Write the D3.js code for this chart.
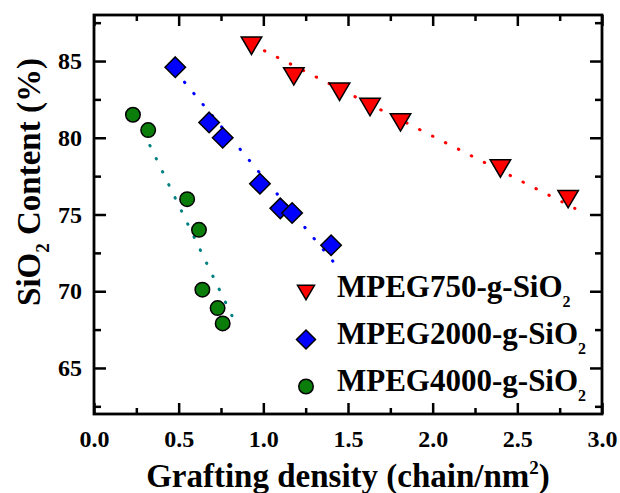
<!DOCTYPE html>
<html>
<head>
<meta charset="utf-8">
<script src="https://cdn.jsdelivr.net/npm/d3@7"></script>
<style>
  body { margin: 0; background: #ffffff; }
  svg { display: block; }
</style>
</head>
<body>
<div id="chart"></div>
<script>
// Chart values
const seriesNames = ["MPEG750-g-SiO", "MPEG2000-g-SiO", "MPEG4000-g-SiO"];
const density750 = [0.93, 1.18, 1.45, 1.63, 1.81, 2.40, 2.80];
const content750 = [86.0, 84.0, 83.0, 82.0, 81.0, 78.0, 76.0];
const density2000 = [0.48, 0.68, 0.76, 0.98, 1.10, 1.17, 1.40];
const content2000 = [84.6, 81.0, 80.0, 77.0, 75.4, 75.1, 73.0];
const density4000 = [0.23, 0.32, 0.55, 0.62, 0.64, 0.73, 0.76];
const content4000 = [81.5, 80.5, 76.0, 74.0, 70.1, 68.9, 67.9];
// dotted guide lines, [start, end] as [density, content]
const fit750 = [[0.93, 86.1], [2.84, 75.4]];
const fit2000 = [[0.48, 84.35], [1.43, 71.7]];
const fit4000 = [[0.33, 79.5], [0.85, 67.6]];
const xTicks = [0, 0.5, 1.0, 1.5, 2.0, 2.5, 3.0];
const xMinorTicks = [0.25, 0.75, 1.25, 1.75, 2.25, 2.75];
const yTicks = [65, 70, 75, 80, 85];
const yMinorTicks = [62.5, 67.5, 72.5, 77.5, 82.5, 87.5];

// Layout
var width = 620;
var height = 493;
const plot = ({ left: 94, right: 602, top: 15, bottom: 414 });
var fontFamily = "'Liberation Serif', 'Times New Roman', serif";

var svg = d3.select("#chart").append("svg")
    .attr("width", width)
    .attr("height", height);

const xScale = d3.scaleLinear().domain([0, 3]).range([plot.left, plot.right]);
const yScale = d3.scaleLinear().domain([62, 88]).range([plot.bottom, plot.top]);

// Marker shapes, centred on their box like the original software does
var markerPath = function (shape, s) {
    if (shape === "triangle") {
        var h = s * 0.85;
        return `M${-s / 2},${-h / 2}L${s / 2},${-h / 2}L0,${h / 2}Z`;
    } else if (shape === "diamond") {
        return `M0,${-s / 2}L${s / 2},0L0,${s / 2}L${-s / 2},0Z`;
    }
    var r = s / 2;
    return `M${r},0A${r},${r} 0 1,1 ${-r},0A${r},${r} 0 1,1 ${r},0Z`;
};

const series = [
    { name: seriesNames[0], x: density750, y: content750, fit: fit750, shape: "triangle", size: 20.5, legendSize: 17, fill: "#ff0000", line: "#ff0000" },
    { name: seriesNames[1], x: density2000, y: content2000, fit: fit2000, shape: "diamond", size: 20.5, legendSize: 19, fill: "#0000ff", line: "#0000ff" },
    { name: seriesNames[2], x: density4000, y: content4000, fit: fit4000, shape: "circle", size: 14.5, legendSize: 14.5, fill: "#0a7d0a", line: "#008080" }
];

// Axes: ticks point inwards on all four sides
var tickStyle = function (g) {
    g.select(".domain").remove();
    g.selectAll(".tick line").attr("stroke", "#000").attr("stroke-width", 2.5);
    g.selectAll(".tick text")
        .attr("font-family", fontFamily)
        .attr("font-weight", "bold")
        .attr("font-size", 24)
        .attr("fill", "#000");
};

svg.append("g")
    .attr("transform", `translate(0,${plot.bottom})`)
    .call(d3.axisBottom(xScale).tickValues(xTicks).tickFormat(d3.format(".1f"))
        .tickSizeInner(-11).tickSizeOuter(0).tickPadding(16))
    .call(tickStyle);
svg.append("g")
    .attr("transform", `translate(0,${plot.bottom})`)
    .call(d3.axisBottom(xScale).tickValues(xMinorTicks).tickFormat("")
        .tickSizeInner(-6).tickSizeOuter(0))
    .call(tickStyle);
svg.append("g")
    .attr("transform", `translate(0,${plot.top})`)
    .call(d3.axisTop(xScale).tickValues(xTicks).tickFormat("")
        .tickSizeInner(-11).tickSizeOuter(0))
    .call(tickStyle);
svg.append("g")
    .attr("transform", `translate(0,${plot.top})`)
    .call(d3.axisTop(xScale).tickValues(xMinorTicks).tickFormat("")
        .tickSizeInner(-6).tickSizeOuter(0))
    .call(tickStyle);

svg.append("g")
    .attr("transform", `translate(${plot.left},0)`)
    .call(d3.axisLeft(yScale).tickValues(yTicks).tickFormat(d3.format("d"))
        .tickSizeInner(-12).tickSizeOuter(0).tickPadding(12))
    .call(tickStyle);
svg.append("g")
    .attr("transform", `translate(${plot.left},0)`)
    .call(d3.axisLeft(yScale).tickValues(yMinorTicks).tickFormat("")
        .tickSizeInner(-7).tickSizeOuter(0))
    .call(tickStyle);
svg.append("g")
    .attr("transform", `translate(${plot.right},0)`)
    .call(d3.axisRight(yScale).tickValues(yTicks).tickFormat("")
        .tickSizeInner(-12).tickSizeOuter(0))
    .call(tickStyle);
svg.append("g")
    .attr("transform", `translate(${plot.right},0)`)
    .call(d3.axisRight(yScale).tickValues(yMinorTicks).tickFormat("")
        .tickSizeInner(-7).tickSizeOuter(0))
    .call(tickStyle);

// Frame
svg.append("rect")
    .attr("x", plot.left)
    .attr("y", plot.top)
    .attr("width", plot.right - plot.left)
    .attr("height", plot.bottom - plot.top)
    .attr("fill", "none")
    .attr("stroke", "#000")
    .attr("stroke-width", 2.8);

// Dotted guide lines
const line = d3.line()
    .x(d => xScale(d[0]))
    .y(d => yScale(d[1]));

svg.append("g")
    .selectAll("path")
    .data(series)
    .enter()
    .append("path")
    .attr("d", d => line(d.fit))
    .attr("fill", "none")
    .attr("stroke", d => d.line)
    .attr("stroke-width", 3)
    .attr("stroke-linecap", "round")
    .attr("stroke-dasharray", "0.5,14");

// Markers
series.forEach(function (s) {
    svg.append("g")
        .selectAll("path")
        .data(d3.range(s.x.length))
        .enter()
        .append("path")
        .attr("transform", i => `translate(${xScale(s.x[i])},${yScale(s.y[i])})`)
        .attr("d", markerPath(s.shape, s.size))
        .attr("fill", s.fill)
        .attr("stroke", "#000")
        .attr("stroke-width", 1.5);
});

// Legend
var legend = svg.append("g");
var legendRows = [297, 344, 391];
series.forEach(function (s, i) {
    legend.append("path")
        .attr("transform", `translate(306,${legendRows[i] - 4.5})`)
        .attr("d", markerPath(s.shape, s.legendSize))
        .attr("fill", s.fill)
        .attr("stroke", "#000")
        .attr("stroke-width", 1.5);
    var t = legend.append("text")
        .attr("x", 337)
        .attr("y", legendRows[i])
        .attr("font-family", fontFamily)
        .attr("font-weight", "bold")
        .attr("font-size", 31)
        .attr("fill", "#000")
        .text(s.name);
    t.append("tspan")
        .attr("dy", 10)
        .attr("font-size", 16)
        .text("2");
});

// Axis titles
var xTitle = svg.append("text")
    .attr("x", (plot.left + plot.right) / 2)
    .attr("y", 487)
    .attr("text-anchor", "middle")
    .attr("font-family", fontFamily)
    .attr("font-weight", "bold")
    .attr("font-size", 33)
    .attr("fill", "#000")
    .text("Grafting density (chain/nm");
xTitle.append("tspan").attr("dy", -13).attr("font-size", 19).text("2");
xTitle.append("tspan").attr("dy", 13).text(")");

var yTitle = svg.append("text")
    .attr("transform", "translate(40,182) rotate(-90)")
    .attr("text-anchor", "middle")
    .attr("font-family", fontFamily)
    .attr("font-weight", "bold")
    .attr("font-size", 33)
    .attr("fill", "#000")
    .text("SiO");
yTitle.append("tspan").attr("dy", 9).attr("font-size", 19).text("2");
yTitle.append("tspan").attr("dy", -9).text(" Content (%)");
</script>
</body>
</html>
